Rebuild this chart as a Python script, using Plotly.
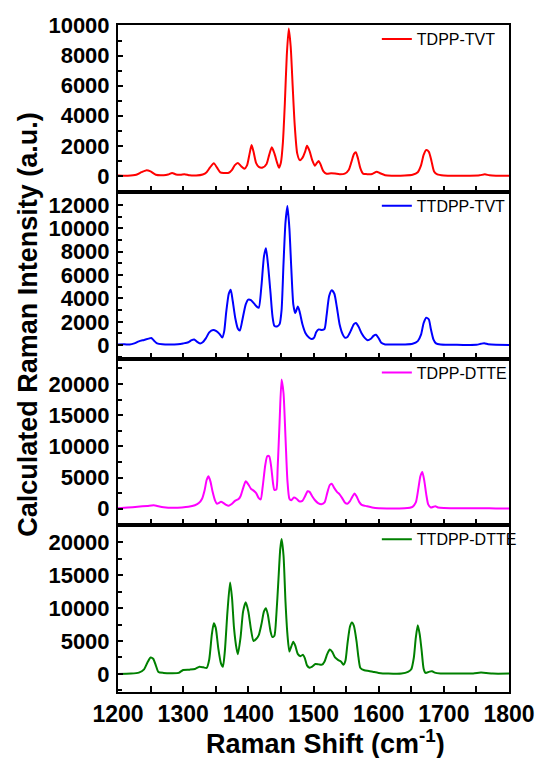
import plotly.graph_objects as go
from plotly.subplots import make_subplots

# Raman shift (cm^-1) / calculated intensity pairs for each compound
tdpp_tvt_x = [1200, 1215, 1228, 1236, 1243, 1250, 1258, 1270, 1277, 1283, 1289, 1296, 1302, 1310, 1320,
              1330, 1336, 1341, 1347, 1352, 1357, 1362, 1370, 1375, 1379, 1384, 1389, 1394, 1398, 1402,
              1405, 1408, 1412, 1416, 1422, 1428, 1432, 1436, 1440, 1444, 1447, 1450, 1453, 1456, 1459,
              1462, 1465, 1468, 1471, 1475, 1479, 1483, 1487, 1490, 1494, 1498, 1502, 1505, 1508, 1511,
              1515, 1520, 1527, 1533, 1540, 1548, 1554, 1558, 1562, 1565, 1568, 1572, 1576, 1582, 1590,
              1597, 1602, 1610, 1620, 1640, 1652, 1660, 1665, 1669, 1673, 1677, 1681, 1685, 1690, 1700,
              1720, 1740, 1755, 1763, 1770, 1780, 1800]
tdpp_tvt_y = [30, 20, 80, 250, 370, 300, 80, 50, 100, 200, 100, 80, 120, 40, 30,
              100, 250, 550, 850, 550, 240, 200, 210, 400, 700, 860, 650, 480, 700, 1500,
              2050, 1600, 850, 600, 560, 800, 1400, 1900, 1500, 900, 550, 900, 2200, 4800, 8000,
              9800, 8600, 6000, 3500, 1500, 1050, 1200, 1600, 2000, 1650, 1050, 680, 850, 1000, 750,
              320, 150, 180, 160, 110, 150, 400, 900, 1450, 1580, 1200, 500, 150, 120, 130,
              280, 180, 50, 20, 30, 80, 250, 700, 1400, 1720, 1600, 1000, 300, 100, 30,
              10, 10, 40, 110, 40, 10, 10]

ttdpp_tvt_x = [1200, 1210, 1218, 1225, 1232, 1240, 1247, 1251, 1255, 1260, 1268, 1280, 1292, 1300, 1308,
               1313, 1317, 1321, 1326, 1330, 1335, 1340, 1346, 1351, 1356, 1360, 1363, 1366, 1370, 1373,
               1376, 1380, 1384, 1387, 1391, 1396, 1400, 1404, 1409, 1413, 1416, 1420, 1424, 1427, 1430,
               1434, 1437, 1440, 1444, 1448, 1451, 1454, 1457, 1460, 1463, 1466, 1469, 1472, 1476, 1479,
               1483, 1488, 1493, 1497, 1501, 1504, 1508, 1513, 1517, 1520, 1524, 1528, 1532, 1536, 1540,
               1545, 1548, 1552, 1557, 1562, 1565, 1569, 1574, 1579, 1583, 1588, 1592, 1596, 1600, 1604,
               1610, 1620, 1640, 1652, 1660, 1665, 1669, 1673, 1677, 1680, 1684, 1688, 1695, 1710, 1730,
               1750, 1757, 1762, 1768, 1780, 1800]
ttdpp_tvt_y = [60, 70, 50, 150, 330, 450, 560, 620, 400, 150, 70, 50, 80, 150, 250,
               430, 480, 300, 150, 250, 600, 1100, 1300, 1200, 950, 650, 1200, 2800, 4400, 4750,
               3800, 2300, 1400, 1250, 2200, 3500, 3900, 3850, 3550, 3300, 3200, 5000, 7600, 8300, 7000,
               4500, 2500, 1650, 1600, 1800, 3000, 7000, 10500, 11900, 10000, 6500, 3500, 2750, 3300, 2800,
               1800, 1000, 650, 520, 650, 1100, 1350, 1300, 1400, 2500, 4200, 4700, 4400, 3200, 1800,
               900, 650, 700, 1200, 1800, 1900, 1600, 1000, 600, 420, 550, 800, 900, 600, 200,
               60, 50, 60, 120, 350, 900, 1900, 2350, 2200, 1400, 500, 150, 60, 40, 20,
               30, 120, 170, 80, 30, 20]

tdpp_dtte_x = [1200, 1215, 1230, 1245, 1255, 1260, 1270, 1285, 1298, 1308, 1318, 1324, 1329, 1333, 1336,
               1339, 1342, 1345, 1349, 1352, 1355, 1358, 1362, 1366, 1370, 1375, 1380, 1385, 1388, 1392,
               1396, 1400, 1404, 1408, 1412, 1416, 1419, 1422, 1426, 1429, 1432, 1435, 1438, 1440, 1443,
               1445, 1448, 1451, 1454, 1457, 1460, 1463, 1466, 1470, 1474, 1478, 1483, 1487, 1491, 1494,
               1498, 1502, 1507, 1512, 1517, 1521, 1525, 1528, 1532, 1536, 1540, 1544, 1548, 1552, 1556,
               1559, 1563, 1566, 1570, 1574, 1580, 1590, 1600, 1620, 1640, 1652, 1657, 1661, 1664, 1667,
               1670, 1673, 1676, 1680, 1684, 1687, 1691, 1700, 1730, 1760, 1780, 1800]
tdpp_dtte_y = [80, 180, 320, 450, 550, 450, 250, 150, 200, 300, 550, 900, 1600, 3000, 4600,
               5200, 4300, 2800, 1300, 800, 950, 1100, 900, 600, 480, 800, 1300, 1550, 2000, 3300,
               4400, 3900, 3200, 2900, 2500, 1700, 1500, 3500, 7000, 8400, 8400, 6800, 4000, 3000, 3100,
               6500, 14000, 20700, 18500, 11500, 4500, 1600, 1350, 1800, 1600, 1200, 1250, 2000, 2800, 2700,
               2000, 1400, 900, 700, 1000, 2500, 3800, 4000, 3300, 2700, 2300, 1700, 1000, 800, 1200,
               1800, 2450, 2000, 1100, 600, 450, 200, 80, 50, 60, 300, 1000, 3300, 5200, 5900,
               4500, 2300, 700, 200, 300, 400, 200, 100, 60, 80, 50, 50]

ttdpp_dtte_x = [1200, 1220, 1232, 1240, 1245, 1250, 1254, 1258, 1262, 1270, 1282, 1293, 1300, 1310, 1318,
                1325, 1331, 1336, 1340, 1344, 1347, 1350, 1354, 1358, 1361, 1364, 1368, 1372, 1375, 1378,
                1382, 1384, 1388, 1392, 1396, 1400, 1404, 1408, 1412, 1416, 1420, 1424, 1427, 1430, 1434,
                1437, 1440, 1443, 1446, 1449, 1451, 1454, 1457, 1460, 1463, 1466, 1469, 1472, 1476, 1480,
                1484, 1487, 1490, 1494, 1498, 1503, 1508, 1513, 1517, 1521, 1525, 1529, 1533, 1538, 1542,
                1546, 1549, 1552, 1556, 1559, 1562, 1566, 1569, 1572, 1578, 1585, 1592, 1600, 1615, 1635,
                1645, 1650, 1654, 1657, 1660, 1663, 1666, 1669, 1672, 1678, 1682, 1686, 1695, 1720, 1745,
                1757, 1765, 1775, 1800]
ttdpp_dtte_y = [0, 50, 200, 700, 1700, 2500, 2300, 1300, 300, 150, 100, 150, 600, 650, 750,
                1100, 1000, 900, 2200, 6000, 7700, 7000, 3800, 1600, 1100, 3500, 9500, 13900, 11500, 7000,
                3800, 3000, 5500, 9500, 10900, 9500, 6800, 5000, 5300, 5900, 7500, 9500, 10000, 9000, 6500,
                5600, 5800, 9000, 14000, 19000, 20500, 18000, 11000, 6000, 3400, 4200, 4900, 4300, 3000, 2700,
                2900, 2300, 1300, 950, 1100, 1500, 1450, 1400, 1900, 3000, 3700, 3300, 2500, 2100, 1900,
                1400, 2000, 4500, 7200, 7800, 7300, 5000, 2500, 900, 550, 450, 300, 150, 50, 50,
                300, 700, 2500, 5500, 7400, 6000, 3500, 800, 150, 350, 400, 200, 80, 50, 80,
                200, 150, 50, 50]

names = ["TDPP-TVT", "TTDPP-TVT", "TDPP-DTTE", "TTDPP-DTTE"]
colors = ["#ff0000", "#0000ff", "#ff00ff", "#008000"]
xs = [tdpp_tvt_x, ttdpp_tvt_x, tdpp_dtte_x, ttdpp_dtte_x]
ys = [tdpp_tvt_y, ttdpp_tvt_y, tdpp_dtte_y, ttdpp_dtte_y]

# y ranges and tick spacing per panel
y_ranges = [[-1050, 10030], [-1140, 13130], [-2650, 24070], [-2750, 22600]]
y_major = [2000, 2000, 5000, 5000]
x_tick_vals = [1200, 1300, 1400, 1500, 1600, 1700, 1800]
x_tick_text = ["1200", "1300", "1400", "1500", "1600", "1700", "1800"]

FONT = "Liberation Sans, Arial, sans-serif"

fig = make_subplots(rows=4, cols=1, shared_xaxes=True, vertical_spacing=0)

legend_keys = ["legend", "legend2", "legend3", "legend4"]
for i in range(4):
    fig.add_trace(
        go.Scatter(
            x=xs[i], y=ys[i], mode="lines", name=names[i],
            line=dict(color=colors[i], width=2, shape="spline", smoothing=0.6),
            legend=legend_keys[i],
        ),
        row=i + 1, col=1,
    )

for i in range(4):
    row = i + 1
    fig.update_xaxes(
        range=[1200, 1800], tickvals=x_tick_vals, ticktext=x_tick_text,
        ticks="inside", ticklen=6, tickwidth=1.5, tickcolor="black",
        minor=dict(dtick=50, ticks="inside", ticklen=6, tickwidth=1.5, tickcolor="black"),
        showline=True, linecolor="black", linewidth=2, mirror=True,
        showgrid=False, zeroline=False,
        showticklabels=(row == 4),
        tickfont=dict(family=FONT, size=23, color="black", weight="bold"),
        row=row, col=1,
    )
    fig.update_yaxes(
        range=y_ranges[i], dtick=y_major[i], tick0=0, tickformat="d",
        ticks="inside", ticklen=5, tickwidth=1.5, tickcolor="black",
        minor=dict(dtick=y_major[i] / 2, tick0=0, ticks="inside", ticklen=4,
                   tickwidth=1.5, tickcolor="black"),
        showline=True, linecolor="black", linewidth=2, mirror=True,
        showgrid=False, zeroline=False,
        tickfont=dict(family=FONT, size=22, color="black", weight="bold"),
        ticklabelstandoff=2,
        row=row, col=1,
    )

plot_h = 758 - 25 - 66
legend_layout = {}
for i, key in enumerate(legend_keys):
    legend_layout[key] = dict(
        x=0.662, xanchor="left",
        y=1 - i / 4 - 14 / plot_h, yanchor="middle",
        bgcolor="rgba(0,0,0,0)", borderwidth=0,
        font=dict(family=FONT, size=16, color="black"),
        itemwidth=30,
    )

fig.update_layout(
    width=547, height=758,
    margin=dict(l=118, r=28, t=25, b=66),
    paper_bgcolor="white", plot_bgcolor="white",
    showlegend=True,
    **legend_layout,
    annotations=[
        dict(text="Calculated Raman Intensity (a.u.)", xref="paper", yref="paper",
             x=(25 - 118) / 401, y=(692 - 324.5) / plot_h, xanchor="center", yanchor="middle",
             textangle=-90, showarrow=False,
             font=dict(family=FONT, size=27, color="black", weight="bold")),
        dict(text="Raman Shift (cm<sup>-1</sup>)", xref="paper", yref="paper",
             x=(330.5 - 118) / 401, y=(692 - 742) / plot_h, xanchor="center", yanchor="middle",
             showarrow=False,
             font=dict(family=FONT, size=27, color="black", weight="bold")),
    ],
)

fig.write_html("out.html")
